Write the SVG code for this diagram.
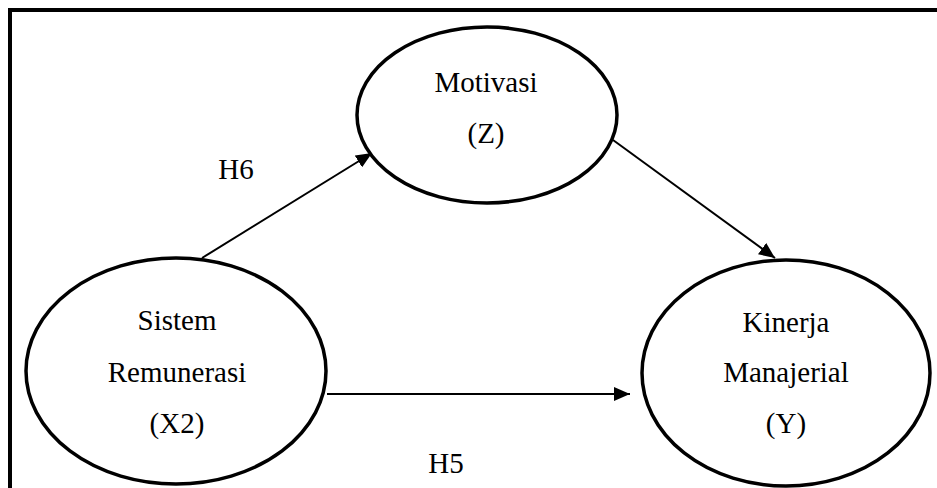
<svg xmlns="http://www.w3.org/2000/svg" width="937" height="488" viewBox="0 0 937 488">
  <defs>
    <style>
      .frame { fill: none; stroke: #000; stroke-width: 4; }
      .node ellipse { fill: #fff; stroke: #000; stroke-width: 3.5; }
      .label { font-family: "Liberation Serif", "Times New Roman", serif; font-size: 29px; fill: #000; text-anchor: middle; }
      .edge { stroke: #000; stroke-width: 2; fill: none; marker-end: url(#arrow); }
    </style>
    <marker id="arrow" markerUnits="userSpaceOnUse" markerWidth="16" markerHeight="14" refX="16" refY="7" orient="auto">
      <path d="M0,0 L16,7 L0,14 Z" fill="#000"/>
    </marker>
  </defs>

  <rect width="937" height="488" fill="#fff"/>
  <!-- outer frame (open on the right and bottom) -->
  <rect class="frame" x="10" y="10" width="940" height="490"/>

  <!-- connectors -->
  <g id="connectors">
    <line class="edge" x1="202" y1="258" x2="372" y2="153"/>
    <line class="edge" x1="613" y1="140" x2="775" y2="258"/>
    <line class="edge" x1="327" y1="394" x2="630" y2="394"/>
  </g>

  <!-- path labels -->
  <g id="edge-labels">
    <text class="label" x="236" y="179">H6</text>
    <text class="label" x="446" y="473">H5</text>
  </g>

  <g id="motivasi" class="node">
    <ellipse cx="487" cy="115" rx="130" ry="88"/>
    <text class="label" x="486" y="92">Motivasi</text>
    <text class="label" x="486" y="143">(Z)</text>
  </g>

  <g id="sistem-remunerasi" class="node">
    <ellipse cx="176" cy="371" rx="150" ry="113"/>
    <text class="label" x="177" y="330">Sistem</text>
    <text class="label" x="177" y="382">Remunerasi</text>
    <text class="label" x="177" y="433">(X2)</text>
  </g>

  <g id="kinerja-manajerial" class="node">
    <ellipse cx="786" cy="373" rx="144" ry="113"/>
    <text class="label" x="786" y="332">Kinerja</text>
    <text class="label" x="786" y="382">Manajerial</text>
    <text class="label" x="786" y="433">(Y)</text>
  </g>
</svg>
